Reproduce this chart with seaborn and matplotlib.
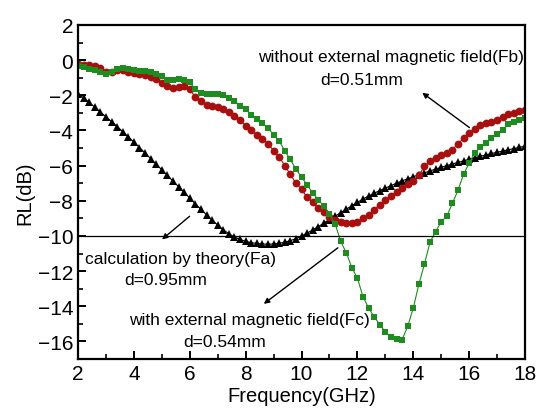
import numpy as np
import pandas as pd
import seaborn as sns
import matplotlib.pyplot as plt

# --- dados ---
freq = np.round(np.linspace(2, 18, 81), 1)

rl_fa = [-1.90, -2.15, -2.40, -2.68, -2.95, -3.22, -3.50, -3.78, -4.06, -4.36,
         -4.66, -4.97, -5.28, -5.60, -5.92, -6.24, -6.56, -6.88, -7.20, -7.52,
         -7.85, -8.17, -8.48, -8.80, -9.10, -9.38, -9.65, -9.88, -10.06, -10.20,
         -10.31, -10.38, -10.43, -10.46, -10.47, -10.46, -10.42, -10.36, -10.27, -10.15,
         -10.00, -9.84, -9.66, -9.47, -9.27, -9.07, -8.88, -8.68, -8.48, -8.28,
         -8.09, -7.90, -7.73, -7.57, -7.42, -7.28, -7.14, -7.00, -6.87, -6.75,
         -6.63, -6.52, -6.41, -6.30, -6.20, -6.10, -6.00, -5.91, -5.82, -5.73,
         -5.64, -5.55, -5.47, -5.39, -5.31, -5.24, -5.17, -5.10, -5.03, -4.96,
         -4.90]

rl_fb = [-0.20, -0.25, -0.28, -0.32, -0.45, -0.68, -0.65, -0.58, -0.55, -0.65,
         -0.72, -0.78, -0.85, -0.95, -1.06, -1.30, -1.45, -1.58, -1.55, -1.47,
         -1.65, -2.10, -2.35, -2.55, -2.62, -2.68, -2.78, -2.95, -3.15, -3.40,
         -3.72, -4.00, -4.25, -4.50, -4.75, -5.15, -5.50, -6.00, -6.50, -7.00,
         -7.35, -7.80, -8.08, -8.40, -8.62, -8.95, -9.12, -9.22, -9.27, -9.29,
         -9.20, -9.00, -8.80, -8.50, -8.22, -7.95, -7.70, -7.50, -7.28, -7.05,
         -6.85, -6.55, -6.05, -5.75, -5.55, -5.42, -5.30, -5.10, -4.75, -4.45,
         -4.15, -3.90, -3.70, -3.60, -3.50, -3.38, -3.22, -3.08, -2.98, -2.90,
         -2.85]

rl_fc = [-0.32, -0.40, -0.48, -0.55, -0.65, -0.78, -0.70, -0.50, -0.47, -0.52,
         -0.56, -0.60, -0.64, -0.70, -0.76, -0.90, -1.15, -1.12, -1.08, -1.15,
         -1.27, -1.65, -1.85, -1.92, -1.93, -1.93, -2.00, -2.15, -2.30, -2.60,
         -2.80, -3.10, -3.36, -3.60, -3.85, -4.25, -4.60, -5.15, -5.65, -6.20,
         -6.65, -7.10, -7.55, -7.95, -8.30, -8.75, -9.30, -10.30, -10.95, -11.80,
         -12.40, -13.45, -14.10, -14.60, -15.05, -15.45, -15.75, -15.88, -15.90, -15.15,
         -14.10, -12.75, -11.60, -10.35, -9.75, -9.20, -8.87, -8.15, -7.40, -6.50,
         -5.85, -5.28, -4.95, -4.70, -4.45, -4.22, -3.98, -3.65, -3.52, -3.40,
         -3.30]

df = pd.DataFrame({'freq': freq, 'Fa': rl_fa, 'Fb': rl_fb, 'Fc': rl_fc})

sns.set_style('ticks', {'axes.edgecolor': 'black', 'xtick.color': 'black',
                        'ytick.color': 'black', 'text.color': 'black',
                        'axes.labelcolor': 'black'})
plt.rcParams['font.family'] = ['Liberation Sans', 'DejaVu Sans']

fig = plt.figure(figsize=(5.37, 4.10), dpi=100)
ax = fig.add_axes([0.1453, 0.1220, 0.8324, 0.8146])

sns.lineplot(data=df, x='freq', y='Fa', ax=ax, color='black', marker='^',
             markersize=6.2, markeredgewidth=0, linewidth=0.8)
sns.lineplot(data=df, x='freq', y='Fb', ax=ax, color='#A80F0F', marker='o',
             markersize=5.6, markeredgewidth=0, linewidth=0.8)
sns.lineplot(data=df, x='freq', y='Fc', ax=ax, color='#1E8C1E', marker='s',
             markersize=4.9, markeredgewidth=0, linewidth=0.8)

ax.axhline(-10, color='black', linewidth=0.9)

ax.set_xlim(2, 18)
ax.set_ylim(-17, 2)
ax.set_xticks(range(2, 19, 2))
ax.set_yticks(range(-16, 3, 2))
ax.set_xticks(range(3, 18, 2), minor=True)
ax.set_yticks(range(-17, 2, 2), minor=True)
ax.tick_params(which='major', direction='in', length=6, width=1.4, labelsize=15, colors='black')
ax.tick_params(which='minor', direction='in', length=3.5, width=1.2, colors='black')
for s in ax.spines.values():
    s.set_linewidth(1.6)
    s.set_color('black')
    s.set_visible(True)

ax.set_xlabel('Frequency(GHz)', fontsize=14.5, labelpad=2, color='black')
ax.set_ylabel('RL(dB)', fontsize=14.5, labelpad=2, color='black')

fs = 12.5
ax.text(13.2, 0.18, 'without external magnetic field(Fb)', fontsize=fs, ha='center', va='center')
ax.text(12.16, -1.08, 'd=0.51mm', fontsize=fs, ha='center', va='center')
ax.text(5.67, -11.28, 'calculation by theory(Fa)', fontsize=fs, ha='center', va='center')
ax.text(5.15, -12.48, 'd=0.95mm', fontsize=fs, ha='center', va='center')
ax.text(8.12, -14.76, 'with external magnetic field(Fc)', fontsize=fs, ha='center', va='center')
ax.text(7.23, -16.0, 'd=0.54mm', fontsize=fs, ha='center', va='center')

arrow = dict(arrowstyle='-|>', color='black', lw=1.0, mutation_scale=8)
ax.annotate('', xy=(14.24, -1.76), xytext=(16.09, -3.93), arrowprops=arrow)
ax.annotate('', xy=(4.93, -10.3), xytext=(6.07, -8.78), arrowprops=arrow)
ax.annotate('', xy=(8.57, -13.96), xytext=(11.38, -10.58), arrowprops=arrow)

fig.savefig('out.png', dpi=100)
